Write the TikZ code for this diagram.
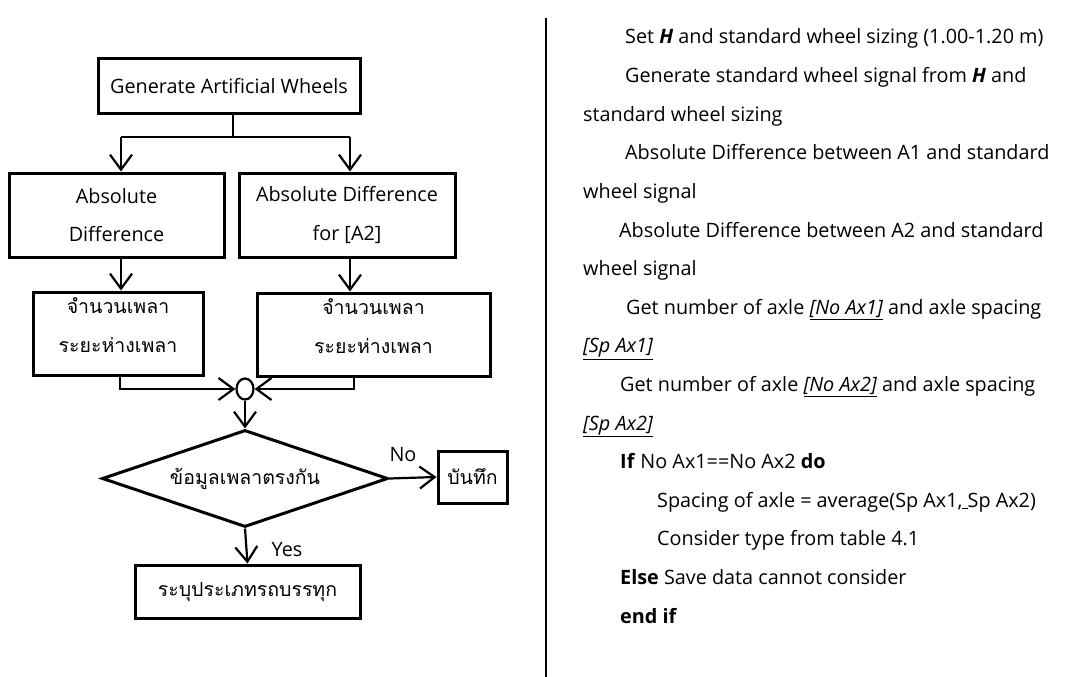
\documentclass[tikz,border=0pt]{standalone}
\usepackage{fontspec}
\setmainfont{Open Sans}
\newfontfamily\thaifont[Script=Thai]{Loma}
\usetikzlibrary{arrows.meta,shapes.geometric}
\newcommand{\fsz}{\fontsize{19.8}{38.6}\selectfont}
\newcommand{\tsz}{\fontsize{19.5}{39}\selectfont\thaifont}
\tikzset{
  box/.style={draw, line width=3pt, inner sep=0pt, align=center, font=\fsz},
  conn/.style={line width=2.2pt},
  arr/.style={conn, -{Straight Barb[length=15pt,width=22pt]}},
  txt/.style={anchor=base west, inner sep=0pt, font=\fsz},
  lbl/.style={inner sep=0pt, font=\fsz},
}
\begin{document}
\begin{tikzpicture}[x=1pt,y=-1pt]
\useasboundingbox[fill=white] (0,0) rectangle (1077,677);
% flowchart boxes
\node[box, minimum width=262pt, minimum height=54pt] (top) at (229,86) {Generate Artificial Wheels};
\node[box, minimum width=215pt, minimum height=84pt] (absL) at (116.5,215) {Absolute\\Difference};
\node[box, minimum width=216pt, minimum height=84pt] (absR) at (347,215) {Absolute Difference\\for [A2]};
\node[box, minimum width=170pt, minimum height=83pt,
  label={[name=thLt, inner sep=0pt, align=center, font=\tsz, yshift=8pt]center:จำนวนเพลา\\ระยะห่างเพลา}] (thL) at (118,333.5) {};
\node[box, minimum width=233pt, minimum height=83pt,
  label={[name=thRt, inner sep=0pt, align=center, font=\tsz, yshift=8pt]center:จำนวนเพลา\\ระยะห่างเพลา}] (thR) at (373.5,334.5) {};
\node[draw, ellipse, line width=2.2pt, minimum width=17pt, minimum height=21pt, inner sep=0pt] (circ) at (245,389) {};
\node[box, diamond, aspect=2.95, minimum width=286pt, minimum height=97pt, font=\tsz] (dia) at (245,478.5) {ข้อมูลเพลาตรงกัน};
\node[box, minimum width=69pt, minimum height=52pt, font=\tsz] (save) at (472.5,477) {บันทึก};
\node[box, minimum width=225pt, minimum height=53pt, font=\tsz] (fin) at (247.5,591.5) {ระบุประเภทรถบรรทุก};
% junction coordinates
\coordinate (j0) at (233,137);
\coordinate (jL) at (121,137);
\coordinate (jR) at (350,137);
\coordinate (cL) at (120,0);
\coordinate (cR) at (354,0);
% connectors
\draw[conn] (top.south -| j0) -- (j0);
\draw[conn] (jL) -- (jR);
\draw[arr] (jL) -- (absL.north -| jL);
\draw[arr] (jR) -- (absR.north -| jR);
\draw[arr] (absL.south -| jL) -- (thL.north -| jL);
\draw[arr] (absR.south -| jR) -- (thR.north -| jR);
\draw[arr] (thL.south -| cL) |- (circ.west);
\draw[arr] (thR.south -| cR) |- (circ.east);
\draw[arr] (circ.south) -- (dia.north);
\draw[arr] (dia.east) -- (save.west);
\draw[arr] (dia.south) -- (fin.north);
\node[lbl] (no) at (403,455) {No};
\node[lbl] (yes) at (287,550) {Yes};
% divider
\coordinate (dT) at (546,18);
\coordinate (dB) at (546,677);
\draw[line width=2pt] (dT) -- (dB);
% pseudo-code
\node[txt] (t0) at (625,44) {Set \textbf{\textit{H}} and standard wheel sizing (1.00-1.20 m)};
\node[txt] (t1) at (625,82.6) {Generate standard wheel signal from \textbf{\textit{H}} and};
\node[txt] (t2) at (583,121.2) {standard wheel sizing};
\node[txt] (t3) at (625,159.8) {Absolute Difference between A1 and standard};
\node[txt] (t4) at (583,198.4) {wheel signal};
\node[txt] (t5) at (619,237) {Absolute Difference between A2 and standard};
\node[txt] (t6) at (583,275.6) {wheel signal};
\node[txt] (t7) at (626,314.2) {Get number of axle \underline{\textit{[No Ax1]}} and axle spacing};
\node[txt] (t8) at (583,352.8) {\underline{\textit{[Sp Ax1]}}};
\node[txt] (t9) at (620,391.4) {Get number of axle \underline{\textit{[No Ax2]}} and axle spacing};
\node[txt] (t10) at (583,430) {\underline{\textit{[Sp Ax2]}}};
\node[txt] (t11) at (620,468.6) {\textbf{If} No Ax1==No Ax2 \textbf{do}};
\node[txt] (t12) at (657,507.2) {Spacing of axle = average(Sp Ax1,\underline{\ }Sp Ax2)};
\node[txt] (t13) at (657,545.8) {Consider type from table 4.1};
\node[txt] (t14) at (620,584.4) {\textbf{Else} Save data cannot consider};
\node[txt] (t15) at (620,623) {\textbf{end if}};
\end{tikzpicture}
\end{document}
